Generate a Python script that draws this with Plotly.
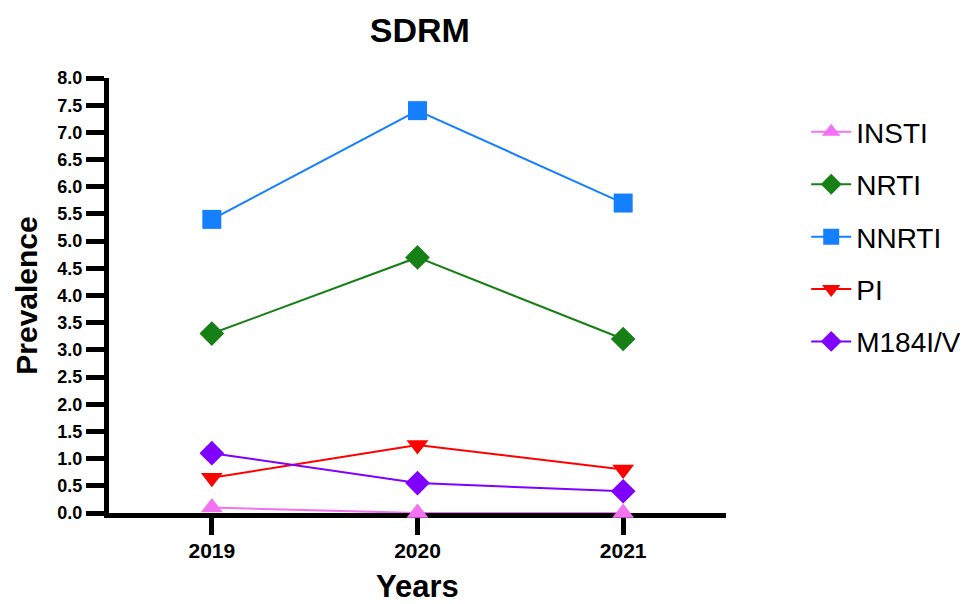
import plotly.graph_objects as go

years = [2019, 2020, 2021]
insti = [0.1, 0.0, 0.0]
nrti = [3.3, 4.7, 3.2]
nnrti = [5.4, 7.4, 5.7]
pi = [0.65, 1.25, 0.8]
m184 = [1.1, 0.55, 0.4]

y_ticks = [i * 0.5 for i in range(17)]
y_tick_text = [f"{v:.1f}" for v in y_ticks]

series = [
    ("INSTI", insti, "#f272f2", "triangle-up", 19),
    ("NRTI", nrti, "#167f16", "diamond", 19),
    ("NNRTI", nnrti, "#1480ff", "square", 19),
    ("PI", pi, "#ff0000", "triangle-down", 19),
    ("M184I/V", m184, "#7f00ff", "diamond", 19),
]

fig = go.Figure()
for name, vals, color, sym, size in series:
    fig.add_trace(go.Scatter(
        x=years, y=vals, name=name, mode="lines+markers",
        line=dict(color=color, width=2),
        marker=dict(symbol=sym, size=size, color=color),
        legendgroup=name, cliponaxis=False,
    ))

fig.update_layout(
    width=960, height=596,
    paper_bgcolor="white", plot_bgcolor="white",
    margin=dict(l=101, r=242, t=70, b=91, autoexpand=False),
    title=dict(text="<b>SDRM</b>", x=0.429, xanchor="center", y=0.963, yanchor="middle",
               font=dict(family="Liberation Sans, Arial", size=34, color="black")),
    font=dict(family="Liberation Sans, Arial", color="black"),
    legend=dict(x=1.130, y=0.933, xanchor="left", yanchor="top",
                font=dict(size=28, color="black"), tracegroupgap=13,
                traceorder="grouped", itemwidth=40),
    showlegend=True,
)
fig.update_xaxes(
    range=[2018.5, 2021.5], tickvals=years, ticktext=[str(y) for y in years],
    showline=True, linecolor="black", linewidth=5, layer="below traces",
    ticks="outside", ticklen=17, tickwidth=5, tickcolor="black",
    tickfont=dict(size=21, weight="bold"), ticklabelstandoff=-2,
    showgrid=False, zeroline=False, automargin=False,
    title=dict(text="<b>Years</b>", font=dict(size=31), standoff=22),
)
fig.update_yaxes(
    range=[0, 8], tickvals=y_ticks, ticktext=y_tick_text,
    showline=True, linecolor="black", linewidth=5, layer="below traces",
    ticks="outside", ticklen=18, tickwidth=5, tickcolor="black",
    tickfont=dict(size=18, weight="bold"),
    showgrid=False, zeroline=False, automargin=False,
    title=dict(text="<b>Prevalence</b>", font=dict(size=30), standoff=12),
)

fig.write_html("out.html")
